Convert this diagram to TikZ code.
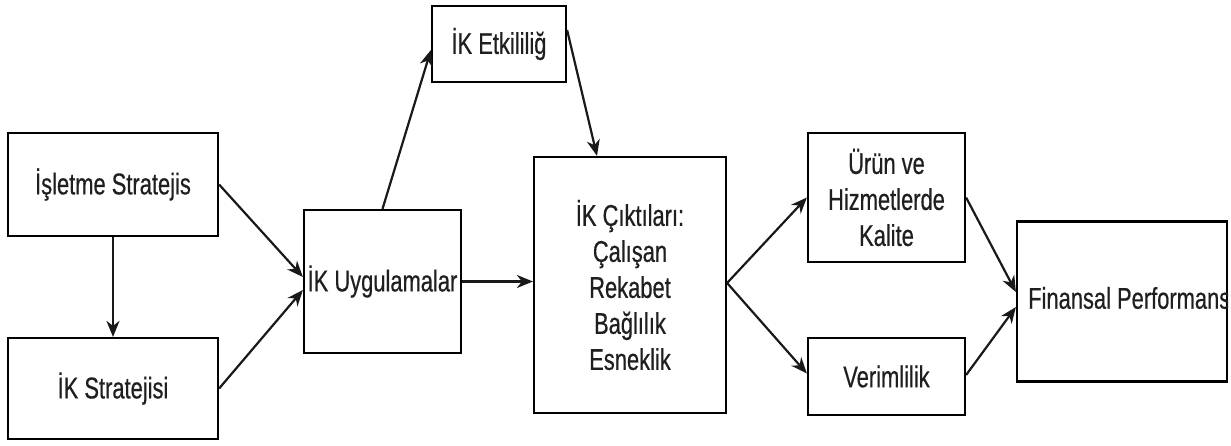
\documentclass[tikz,border=0pt]{standalone}
\usepackage{fontspec}
\setmainfont{Liberation Sans}[FakeStretch=0.73,FakeBold=0.5]
\usetikzlibrary{arrows.meta}
\begin{document}
\begin{tikzpicture}[x=1pt,y=1pt,
  box/.style={draw=black, line width=2.2pt, fill=white, align=center,
    inner sep=0pt, font=\fontsize{30}{36}\selectfont, text=black!88},
  link/.style={line width=2.2pt, draw=black!90,
    -{Stealth[length=16pt,width=13pt,inset=5pt]}}]
\useasboundingbox (0,0) rectangle (1231,445);
% strategy boxes on the left
\node[box, minimum width=210, minimum height=103] (isl) at (113,260.5) {İşletme Stratejis};
\node[box, minimum width=210, minimum height=101] (iks) at (113,56.5) {İK Stratejisi};
% HR practices, effectiveness and outcomes
\node[box, minimum width=157, minimum height=143] (uyg) at (382.5,163.5) {İK Uygulamalar};
\node[box, minimum width=134, minimum height=76] (etk) at (499,401) {\raisebox{6pt}{İK Etkililiğ}};
\node[box, minimum width=192, minimum height=256] (cik) at (630,160)
  {İK Çıktıları:\\Çalışan\\Rekabet\\Bağlılık\\Esneklik};
% organisational results
\node[box, minimum width=157, minimum height=129] (urun) at (886.5,247.5) {Ürün ve\\Hizmetlerde\\Kalite};
\node[box, minimum width=157, minimum height=77] (ver) at (886.5,68.5) {Verimlilik};
\node[box, minimum width=210, minimum height=160] (fin) at (1122,143.5) {};
\begin{scope}
  \clip (fin.south west) rectangle (fin.north east);
  \node[anchor=west, inner sep=0pt, font=\fontsize{30}{36}\selectfont, text=black!88]
    (fintxt) at (1028,147) {Finansal Performans};
\end{scope}
% connectors
\draw[link] (isl.south) -- (iks.north);
\draw[link] (isl.east) -- ([yshift=4.5pt]uyg.west);
\draw[link] (iks.east) -- ([yshift=-8.5pt]uyg.west);
\draw[link] (uyg.north) -- ([yshift=-6pt]etk.west);
\draw[link] ([yshift=14pt]etk.east) -- ([xshift=-33pt]cik.north);
\draw[link] (uyg.east) -- (uyg.east -| cik.west);
\draw[link] ([yshift=2pt]cik.east) -- (urun.west);
\draw[link] ([yshift=2pt]cik.east) -- ([yshift=3pt]ver.west);
\draw[link] (urun.east) -- ([yshift=9.5pt]fin.west);
\draw[link] ([yshift=1.5pt]ver.east) -- ([yshift=-5.5pt]fin.west);
\end{tikzpicture}
\end{document}
